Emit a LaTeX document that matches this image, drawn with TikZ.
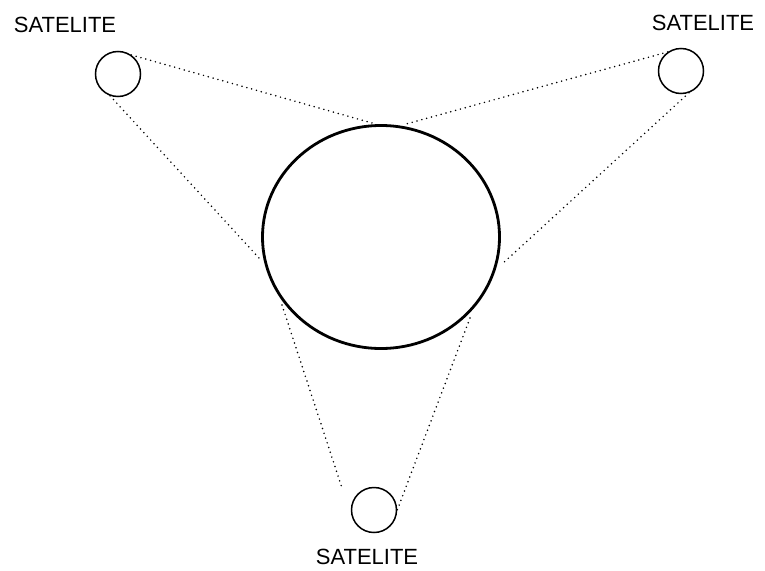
\documentclass[tikz,border=0pt]{standalone}
\usepackage{fontspec}
\setmainfont{Liberation Sans}
\usetikzlibrary{shapes.geometric}
\begin{document}
\begin{tikzpicture}[x=1pt,y=-1pt,
  sat/.style={draw, circle, minimum size=45pt, inner sep=0pt, line width=1.5pt},
  earthstyle/.style={draw, ellipse, minimum width=237pt, minimum height=223pt, inner sep=0pt, line width=2.8pt},
  lbl/.style={font=\fontsize{22}{24}\selectfont, inner sep=0pt},
  link/.style={line width=1.7pt, line cap=round, dash pattern=on 0pt off 5pt}]
\useasboundingbox (0,0) rectangle (765,570);
\node[earthstyle] (earth) at (381,237) {};
\node[sat] (s1) at (118,74) {};
\node[sat] (s2) at (681,71) {};
\node[sat] (s3) at (374,510) {};
\node[lbl] (l1) at (65,25) {SATELITE};
\node[lbl] (l2) at (703,23) {SATELITE};
\node[lbl] (l3) at (367,557) {SATELITE};
\coordinate (e1) at (372,123);
\coordinate (e2) at (406,124);
\coordinate (e3) at (259,258);
\coordinate (e4) at (501,265);
\coordinate (e5) at (282,305);
\coordinate (e6) at (470,318);
\coordinate (b1) at (342,488);
\draw[link] (s1.55) -- (e1);
\draw[link] (s1.-110) -- (e3);
\draw[link] (s2.125) -- (e2);
\draw[link] (s2.-70) -- (e4);
\draw[link] (e5) -- (b1);
\draw[link] (e6) -- (s3.east);
\end{tikzpicture}
\end{document}
